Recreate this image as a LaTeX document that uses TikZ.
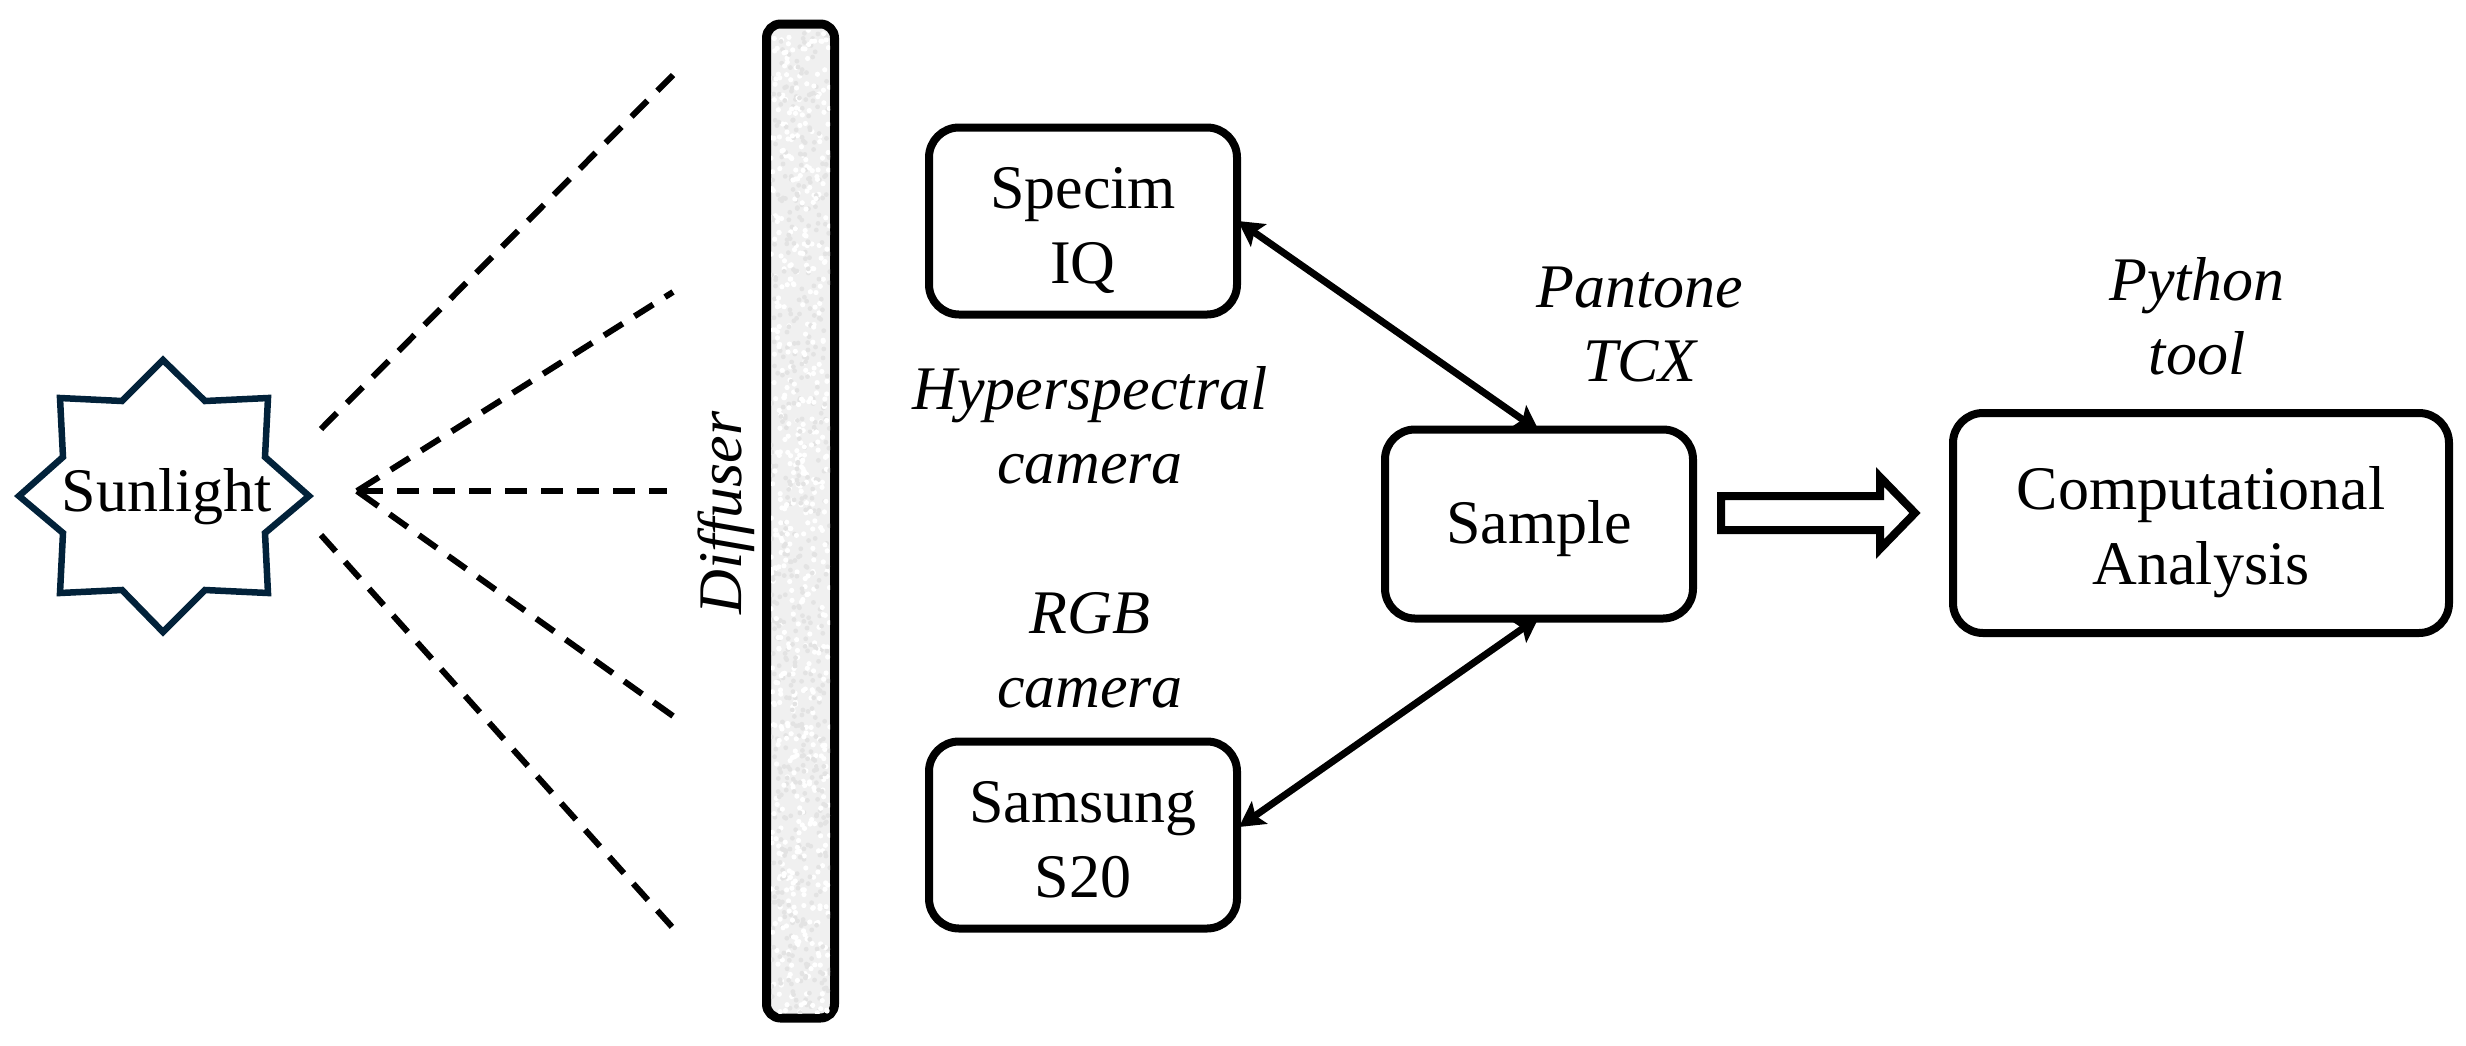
\documentclass[tikz,border=0pt]{standalone}
\usepackage{fontspec}
\setmainfont[Ligatures=NoCommon]{Liberation Serif}
\usetikzlibrary{arrows.meta,calc}
\definecolor{starblue}{HTML}{02223A}
\definecolor{diffgray}{HTML}{F0F0F0}
\definecolor{diffdot}{HTML}{E3E3E3}
\tikzset{
  x=1pt,y=-1pt,
  txt/.style={font=\fontsize{62}{75}\selectfont,align=center,inner sep=0pt,text=black},
  ital/.style={txt,font=\fontsize{62}{74}\selectfont\itshape},
  box/.style={draw=black,line width=8pt,rounded corners=30pt,fill=white,inner sep=0pt},
  duo/.style={line width=7pt,{Stealth[length=25pt,width=27pt,inset=5pt]}-{Stealth[length=25pt,width=27pt,inset=5pt]}},
  ray/.style={line width=6pt,dash pattern=on 22pt off 14pt},
  fanray/.style={line width=6pt,dash pattern=on 26pt off 14pt on 22pt off 14pt on 22pt off 14pt on 22pt off 14pt on 22pt off 14pt on 22pt off 14pt on 22pt off 14pt on 22pt off 14pt on 22pt off 14pt on 22pt off 14pt},
}
\begin{document}
\begin{tikzpicture}
\useasboundingbox (0,0) rectangle (2466,1045);
% star
\draw[starblue,line width=6.5pt,fill=white,miter limit=10]
  (19,496)--(63,457)--(60,398)--(122,401)--(163,360)--(205,401)--(268,398)--(265,457)
  --(309,496)--(265,533)--(268,593)--(205,590)--(163,632)--(122,590)--(60,593)--(63,533)--cycle;
\node[txt] (sun) at (167,497) {Sunlight};
% rays
\coordinate (focus) at (357,491);
\coordinate (r1a) at (321,429); \coordinate (r1b) at (673,75);
\coordinate (r2) at (673,292);
\coordinate (r3) at (667,491);
\coordinate (r4) at (673,716);
\coordinate (r5a) at (321,535); \coordinate (r5b) at (673,928);
\draw[ray,dash pattern=on 22.5pt off 14.2pt] (r1a)--(r1b);
\draw[fanray] (focus)--(r2);
\draw[fanray] (focus)--(r3);
\draw[fanray] (focus)--(r4);
\draw[ray] (r5a)--(r5b);
% diffuser
\draw[draw=black,line width=9pt,fill=diffgray,rounded corners=14pt] (766.5,24) rectangle (834.5,1018);
\begin{scope}
\clip (771,30) rectangle (830,1013);
\pgfmathsetseed{7}
\foreach \i in {1,...,600}{
  \pgfmathsetmacro{\px}{771+59*rnd}
  \pgfmathsetmacro{\py}{30+983*rnd}
  \fill[diffdot] (\px,\py) circle[radius=2.4pt];
  \pgfmathsetmacro{\qx}{771+59*rnd}
  \pgfmathsetmacro{\qy}{30+983*rnd}
  \fill[white] (\qx,\qy) circle[radius=2.6pt];
}
\end{scope}
\node[ital,rotate=90,anchor=base] (diff) at (741,513) {Diffuser};
% connectors (drawn first, their far ends sink into the box borders)
\coordinate (specE) at (1238,221);
\coordinate (sampN) at (1539,431);
\coordinate (sampS) at (1539,617);
\coordinate (samsE) at (1239,827);
\draw[duo] (specE)--(sampN);
\draw[duo] (sampS)--(samsE);
% boxes
\node[box,minimum width=308pt,minimum height=187pt] (spec) at (1083,221) {};
\node[txt] (specL) at (1083,230) {Specim\\IQ};
\node[box,minimum width=308pt,minimum height=187pt] (sams) at (1083,835) {};
\node[txt] (samsL) at (1083,840) {Samsung\\S20};
\node[box,minimum width=308pt,minimum height=189pt] (samp) at (1539,524) {};
\node[txt] (sampL) at (1539,529) {Sample};
\node[box,minimum width=496pt,minimum height=220pt] (comp) at (2201,523) {};
\node[txt] (compL) at (2201,532) {Computational\\Analysis};
% labels
\node[ital] (hyp) at (1090,425) {Hyperspectral\\camera};
\node[ital] (rgb) at (1090,650) {RGB\\camera};
\node[ital] (pan) at (1640,324) {Pantone\\TCX};
\node[ital] (py) at (2197,316) {Python\\tool};
% block arrow
\draw[black,line width=8pt,fill=white,miter limit=10]
  (1721,496)--(1880,496)--(1880,477)--(1915,513)--(1880,549)--(1880,530)--(1721,530)--cycle;
\end{tikzpicture}
\end{document}
